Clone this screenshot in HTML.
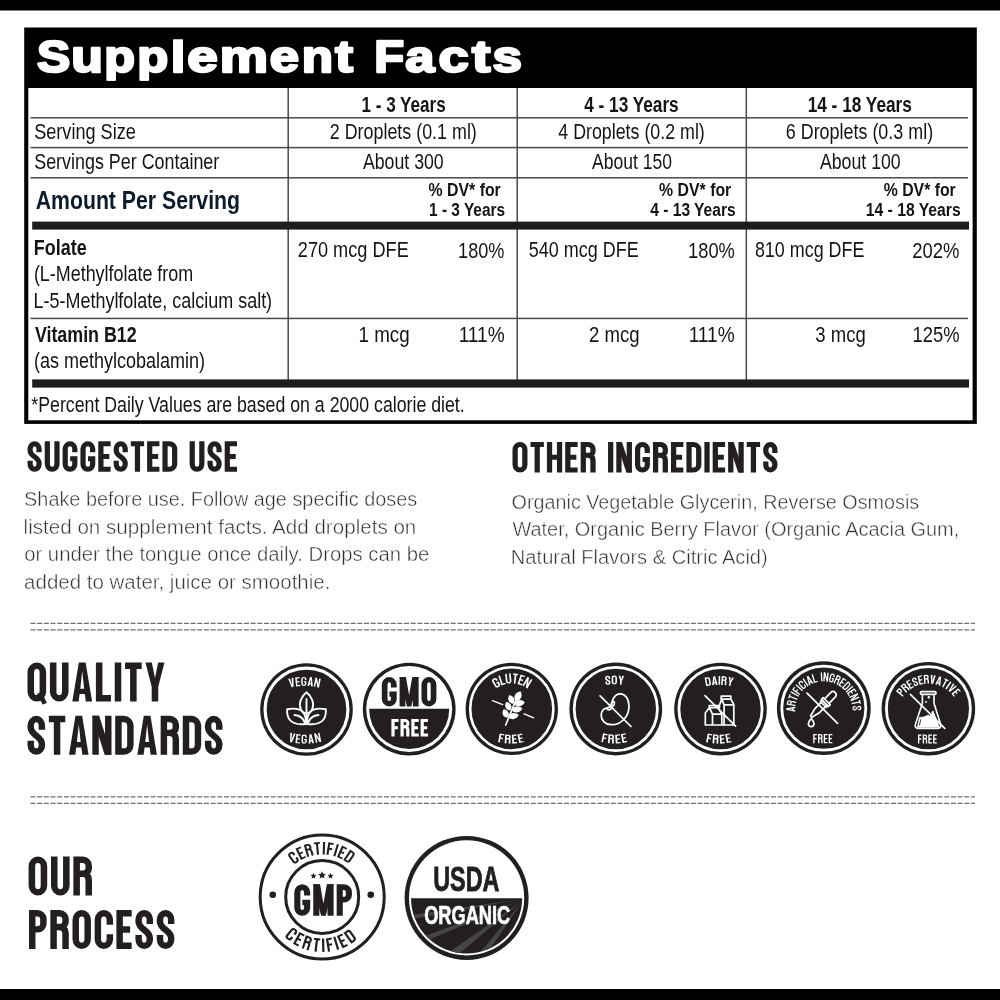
<!DOCTYPE html>
<html><head><meta charset="utf-8"><title>Supplement Facts</title>
<style>
html,body{margin:0;padding:0;background:#fff;}
body{width:1000px;height:1000px;overflow:hidden;font-family:"Liberation Sans",sans-serif;}
svg{display:block;will-change:transform;font-family:"Liberation Sans",sans-serif;}
</style></head><body>
<svg width="1000" height="1000" viewBox="0 0 1000 1000">
<rect x="0" y="0" width="1000" height="10.5" fill="#000"/>
<rect x="0" y="989" width="1000" height="11" fill="#000"/>
<rect x="24.2" y="27.5" width="952.6" height="396.4" fill="#000"/>
<rect x="28.3" y="88" width="944.3" height="332.3" fill="#fff"/>
<clipPath id="tclip"><rect x="30" y="39.3" width="500" height="41.4"/></clipPath><g clip-path="url(#tclip)"><text y="71.9" font-size="44.8" font-weight="bold" fill="#fff" stroke="#fff" stroke-width="2.4" stroke-linejoin="round"><tspan x="36.90" textLength="33.21" lengthAdjust="spacingAndGlyphs">S</tspan><tspan x="71.18" textLength="31.60" lengthAdjust="spacingAndGlyphs">u</tspan><tspan x="104.28" textLength="30.68" lengthAdjust="spacingAndGlyphs">p</tspan><tspan x="137.27" textLength="30.95" lengthAdjust="spacingAndGlyphs">p</tspan><tspan x="170.74" textLength="14.56" lengthAdjust="spacingAndGlyphs">l</tspan><tspan x="187.32" textLength="30.58" lengthAdjust="spacingAndGlyphs">e</tspan><tspan x="219.87" textLength="48.29" lengthAdjust="spacingAndGlyphs">m</tspan><tspan x="269.85" textLength="29.29" lengthAdjust="spacingAndGlyphs">e</tspan><tspan x="301.74" textLength="31.31" lengthAdjust="spacingAndGlyphs">n</tspan><tspan x="335.27" textLength="17.70" lengthAdjust="spacingAndGlyphs">t</tspan> <tspan x="374.28" textLength="29.95" lengthAdjust="spacingAndGlyphs">F</tspan><tspan x="405.37" textLength="29.15" lengthAdjust="spacingAndGlyphs">a</tspan><tspan x="438.58" textLength="30.31" lengthAdjust="spacingAndGlyphs">c</tspan><tspan x="472.06" textLength="18.39" lengthAdjust="spacingAndGlyphs">t</tspan><tspan x="492.56" textLength="29.45" lengthAdjust="spacingAndGlyphs">s</tspan></text></g>
<rect x="30.5" y="117.05" width="937.5" height="1.5" fill="#4a4a4a"/>
<rect x="30.5" y="146.85" width="937.5" height="1.5" fill="#4a4a4a"/>
<rect x="30.5" y="177.05" width="937.5" height="1.5" fill="#4a4a4a"/>
<rect x="30.5" y="317.7" width="937.5" height="1.5" fill="#4a4a4a"/>
<rect x="287.45" y="88" width="1.5" height="292" fill="#4a4a4a"/>
<rect x="516.45" y="88" width="1.5" height="292" fill="#4a4a4a"/>
<rect x="745.55" y="88" width="1.5" height="292" fill="#4a4a4a"/>
<rect x="32.2" y="221.6" width="936.8" height="8" fill="#1f1c1d"/>
<rect x="32.2" y="379.4" width="936.8" height="8.2" fill="#1f1c1d"/>
<text x="361.44" y="112.00" font-size="21.8" text-anchor="start" font-weight="bold" fill="#141414" textLength="84.25" lengthAdjust="spacingAndGlyphs" >1 - 3 Years</text>
<text x="584.24" y="112.00" font-size="21.8" text-anchor="start" font-weight="bold" fill="#141414" textLength="94.45" lengthAdjust="spacingAndGlyphs" >4 - 13 Years</text>
<text x="807.63" y="112.00" font-size="21.8" text-anchor="start" font-weight="bold" fill="#141414" textLength="104.27" lengthAdjust="spacingAndGlyphs" >14 - 18 Years</text>
<text x="34.18" y="139.00" font-size="21.8" text-anchor="start" font-weight="normal" fill="#141414" textLength="101.63" lengthAdjust="spacingAndGlyphs" >Serving Size</text>
<text x="329.80" y="139.00" font-size="21.8" text-anchor="start" font-weight="normal" fill="#141414" textLength="147.01" lengthAdjust="spacingAndGlyphs" >2 Droplets (0.1 ml)</text>
<text x="558.29" y="139.00" font-size="21.8" text-anchor="start" font-weight="normal" fill="#141414" textLength="146.51" lengthAdjust="spacingAndGlyphs" >4 Droplets (0.2 ml)</text>
<text x="785.79" y="139.00" font-size="21.8" text-anchor="start" font-weight="normal" fill="#141414" textLength="147.32" lengthAdjust="spacingAndGlyphs" >6 Droplets (0.3 ml)</text>
<text x="34.19" y="169.00" font-size="21.8" text-anchor="start" font-weight="normal" fill="#141414" textLength="185.11" lengthAdjust="spacingAndGlyphs" >Servings Per Container</text>
<text x="362.97" y="169.00" font-size="21.8" text-anchor="start" font-weight="normal" fill="#141414" textLength="80.73" lengthAdjust="spacingAndGlyphs" >About 300</text>
<text x="591.97" y="169.00" font-size="21.8" text-anchor="start" font-weight="normal" fill="#141414" textLength="80.02" lengthAdjust="spacingAndGlyphs" >About 150</text>
<text x="819.97" y="169.00" font-size="21.8" text-anchor="start" font-weight="normal" fill="#141414" textLength="80.73" lengthAdjust="spacingAndGlyphs" >About 100</text>
<text x="35.67" y="208.60" font-size="26" text-anchor="start" font-weight="bold" fill="#0e1c2a" textLength="204.35" lengthAdjust="spacingAndGlyphs" >Amount Per Serving</text>
<text x="428.61" y="195.50" font-size="19.2" text-anchor="start" font-weight="bold" fill="#141414" textLength="72.13" lengthAdjust="spacingAndGlyphs" >% DV* for</text>
<text x="429.04" y="216.00" font-size="19.2" text-anchor="start" font-weight="bold" fill="#141414" textLength="76.08" lengthAdjust="spacingAndGlyphs" >1 - 3 Years</text>
<text x="659.11" y="195.50" font-size="19.2" text-anchor="start" font-weight="bold" fill="#141414" textLength="72.13" lengthAdjust="spacingAndGlyphs" >% DV* for</text>
<text x="650.27" y="216.00" font-size="19.2" text-anchor="start" font-weight="bold" fill="#141414" textLength="85.36" lengthAdjust="spacingAndGlyphs" >4 - 13 Years</text>
<text x="883.81" y="195.50" font-size="19.2" text-anchor="start" font-weight="bold" fill="#141414" textLength="71.93" lengthAdjust="spacingAndGlyphs" >% DV* for</text>
<text x="865.72" y="216.00" font-size="19.2" text-anchor="start" font-weight="bold" fill="#141414" textLength="94.91" lengthAdjust="spacingAndGlyphs" >14 - 18 Years</text>
<text x="33.80" y="255.00" font-size="22" text-anchor="start" font-weight="bold" fill="#141414" textLength="52.81" lengthAdjust="spacingAndGlyphs" >Folate</text>
<text x="33.89" y="280.50" font-size="21.8" text-anchor="start" font-weight="normal" fill="#141414" textLength="159.29" lengthAdjust="spacingAndGlyphs" >(L-Methylfolate from</text>
<text x="33.53" y="307.50" font-size="21.8" text-anchor="start" font-weight="normal" fill="#141414" textLength="238.59" lengthAdjust="spacingAndGlyphs" >L-5-Methylfolate, calcium salt)</text>
<text x="297.79" y="257.00" font-size="21.8" text-anchor="start" font-weight="normal" fill="#141414" textLength="110.99" lengthAdjust="spacingAndGlyphs" >270 mcg DFE</text>
<text x="458.12" y="257.50" font-size="21.8" text-anchor="start" font-weight="normal" fill="#141414" textLength="46.33" lengthAdjust="spacingAndGlyphs" >180%</text>
<text x="528.78" y="257.00" font-size="21.8" text-anchor="start" font-weight="normal" fill="#141414" textLength="109.99" lengthAdjust="spacingAndGlyphs" >540 mcg DFE</text>
<text x="688.11" y="257.50" font-size="21.8" text-anchor="start" font-weight="normal" fill="#141414" textLength="46.74" lengthAdjust="spacingAndGlyphs" >180%</text>
<text x="754.92" y="257.00" font-size="21.8" text-anchor="start" font-weight="normal" fill="#141414" textLength="109.55" lengthAdjust="spacingAndGlyphs" >810 mcg DFE</text>
<text x="912.27" y="257.50" font-size="21.8" text-anchor="start" font-weight="normal" fill="#141414" textLength="47.08" lengthAdjust="spacingAndGlyphs" >202%</text>
<text x="34.88" y="341.50" font-size="22" text-anchor="start" font-weight="bold" fill="#141414" textLength="101.83" lengthAdjust="spacingAndGlyphs" >Vitamin B12</text>
<text x="33.88" y="367.50" font-size="21.8" text-anchor="start" font-weight="normal" fill="#141414" textLength="171.23" lengthAdjust="spacingAndGlyphs" >(as methylcobalamin)</text>
<text x="358.57" y="341.50" font-size="21.8" text-anchor="start" font-weight="normal" fill="#141414" textLength="51.14" lengthAdjust="spacingAndGlyphs" >1 mcg</text>
<text x="458.63" y="341.50" font-size="21.8" text-anchor="start" font-weight="normal" fill="#141414" textLength="46.01" lengthAdjust="spacingAndGlyphs" >111%</text>
<text x="589.06" y="341.50" font-size="21.8" text-anchor="start" font-weight="normal" fill="#141414" textLength="50.63" lengthAdjust="spacingAndGlyphs" >2 mcg</text>
<text x="688.63" y="341.50" font-size="21.8" text-anchor="start" font-weight="normal" fill="#141414" textLength="46.01" lengthAdjust="spacingAndGlyphs" >111%</text>
<text x="815.30" y="341.50" font-size="21.8" text-anchor="start" font-weight="normal" fill="#141414" textLength="50.40" lengthAdjust="spacingAndGlyphs" >3 mcg</text>
<text x="912.60" y="341.50" font-size="21.8" text-anchor="start" font-weight="normal" fill="#141414" textLength="47.06" lengthAdjust="spacingAndGlyphs" >125%</text>
<text x="31.32" y="412.40" font-size="21.8" text-anchor="start" font-weight="normal" fill="#141414" textLength="433.40" lengthAdjust="spacingAndGlyphs" >*Percent Daily Values are based on a 2000 calorie diet.</text>
<text x="24.10" y="505.70" font-size="19.6" text-anchor="start" font-weight="normal" fill="#303030" textLength="393.12" lengthAdjust="spacingAndGlyphs" stroke="#fff" stroke-width="0.45">Shake before use. Follow age specific doses</text>
<text x="23.62" y="533.70" font-size="19.6" text-anchor="start" font-weight="normal" fill="#303030" textLength="392.72" lengthAdjust="spacingAndGlyphs" stroke="#fff" stroke-width="0.45">listed on supplement facts. Add droplets on</text>
<text x="24.15" y="561.30" font-size="19.6" text-anchor="start" font-weight="normal" fill="#303030" textLength="405.25" lengthAdjust="spacingAndGlyphs" stroke="#fff" stroke-width="0.45">or under the tongue once daily. Drops can be</text>
<text x="24.13" y="589.30" font-size="19.6" text-anchor="start" font-weight="normal" fill="#303030" textLength="306.23" lengthAdjust="spacingAndGlyphs" stroke="#fff" stroke-width="0.45">added to water, juice or smoothie.</text>
<text x="511.57" y="508.70" font-size="19.6" text-anchor="start" font-weight="normal" fill="#303030" textLength="407.65" lengthAdjust="spacingAndGlyphs" stroke="#fff" stroke-width="0.45">Organic Vegetable Glycerin, Reverse Osmosis</text>
<text x="512.41" y="536.30" font-size="19.6" text-anchor="start" font-weight="normal" fill="#303030" textLength="446.87" lengthAdjust="spacingAndGlyphs" stroke="#fff" stroke-width="0.45">Water, Organic Berry Flavor (Organic Acacia Gum,</text>
<text x="510.86" y="564.30" font-size="19.6" text-anchor="start" font-weight="normal" fill="#303030" textLength="256.88" lengthAdjust="spacingAndGlyphs" stroke="#fff" stroke-width="0.45">Natural Flavors &amp; Citric Acid)</text>
<line x1="30.5" y1="623.3" x2="975" y2="623.3" stroke="#707070" stroke-width="1.25" stroke-dasharray="5 1.67"/>
<line x1="30.5" y1="629.9" x2="975" y2="629.9" stroke="#707070" stroke-width="1.25" stroke-dasharray="5 1.67"/>
<line x1="30.5" y1="796.8" x2="975" y2="796.8" stroke="#707070" stroke-width="1.25" stroke-dasharray="5 1.67"/>
<line x1="30.5" y1="803.3" x2="975" y2="803.3" stroke="#707070" stroke-width="1.25" stroke-dasharray="5 1.67"/>
<g transform="translate(27.50 441.30) scale(0.3160 0.3050)" color="#231f20">
<g transform="translate(0.00 0)"><path d="M36.75 36V25.25A14.25 17 0 0 0 8.25 25.25V30C8.25 50 36.75 52 36.75 72V74.75A14.25 17 0 0 1 8.25 74.75V64" fill="none" stroke="currentColor" stroke-width="16.5" stroke-linejoin="miter" stroke-linecap="butt"/></g>
<g transform="translate(54.50 0)"><path d="M8.25 0V74.75a15.25 17 0 0 0 30.5 0V0" fill="none" stroke="currentColor" stroke-width="16.5" stroke-linejoin="miter" stroke-linecap="butt"/></g>
<g transform="translate(111.00 0)"><path d="M38.75 36V25.25a15.25 17 0 0 0 -30.5 0V74.75a15.25 17 0 0 0 30.5 0V57.25H24" fill="none" stroke="currentColor" stroke-width="16.5" stroke-linejoin="miter" stroke-linecap="butt"/></g>
<g transform="translate(167.50 0)"><path d="M38.75 36V25.25a15.25 17 0 0 0 -30.5 0V74.75a15.25 17 0 0 0 30.5 0V57.25H24" fill="none" stroke="currentColor" stroke-width="16.5" stroke-linejoin="miter" stroke-linecap="butt"/></g>
<g transform="translate(224.00 0)"><path d="M39 8.25H8.25V91.75H39M8.25 50H35" fill="none" stroke="currentColor" stroke-width="16.5" stroke-linejoin="miter" stroke-linecap="butt"/></g>
<g transform="translate(272.50 0)"><path d="M36.75 36V25.25A14.25 17 0 0 0 8.25 25.25V30C8.25 50 36.75 52 36.75 72V74.75A14.25 17 0 0 1 8.25 74.75V64" fill="none" stroke="currentColor" stroke-width="16.5" stroke-linejoin="miter" stroke-linecap="butt"/></g>
<g transform="translate(327.00 0)"><path d="M0 8.25H42M21 8.25V100" fill="none" stroke="currentColor" stroke-width="16.5" stroke-linejoin="miter" stroke-linecap="butt"/></g>
<g transform="translate(378.50 0)"><path d="M39 8.25H8.25V91.75H39M8.25 50H35" fill="none" stroke="currentColor" stroke-width="16.5" stroke-linejoin="miter" stroke-linecap="butt"/></g>
<g transform="translate(427.00 0)"><path d="M8.25 8.25H21.75a17 17 0 0 1 17 17V74.75a17 17 0 0 1 -17 17H8.25Z" fill="none" stroke="currentColor" stroke-width="16.5" stroke-linejoin="miter" stroke-linecap="butt"/></g>
<g transform="translate(513.00 0)"><path d="M8.25 0V74.75a15.25 17 0 0 0 30.5 0V0" fill="none" stroke="currentColor" stroke-width="16.5" stroke-linejoin="miter" stroke-linecap="butt"/></g>
<g transform="translate(569.50 0)"><path d="M36.75 36V25.25A14.25 17 0 0 0 8.25 25.25V30C8.25 50 36.75 52 36.75 72V74.75A14.25 17 0 0 1 8.25 74.75V64" fill="none" stroke="currentColor" stroke-width="16.5" stroke-linejoin="miter" stroke-linecap="butt"/></g>
<g transform="translate(624.00 0)"><path d="M39 8.25H8.25V91.75H39M8.25 50H35" fill="none" stroke="currentColor" stroke-width="16.5" stroke-linejoin="miter" stroke-linecap="butt"/></g>
</g>
<g transform="translate(512.50 442.00) scale(0.3185 0.3050)" color="#231f20">
<g transform="translate(0.00 0)"><path d="M8.25 25.25a15.25 17 0 0 1 30.5 0V74.75a15.25 17 0 0 1 -30.5 0Z" fill="none" stroke="currentColor" stroke-width="16.5" stroke-linejoin="miter" stroke-linecap="butt"/></g>
<g transform="translate(56.50 0)"><path d="M0 8.25H42M21 8.25V100" fill="none" stroke="currentColor" stroke-width="16.5" stroke-linejoin="miter" stroke-linecap="butt"/></g>
<g transform="translate(108.00 0)"><path d="M8.25 0V100M39.75 0V100M8.25 50H39.75" fill="none" stroke="currentColor" stroke-width="16.5" stroke-linejoin="miter" stroke-linecap="butt"/></g>
<g transform="translate(165.50 0)"><path d="M39 8.25H8.25V91.75H39M8.25 50H35" fill="none" stroke="currentColor" stroke-width="16.5" stroke-linejoin="miter" stroke-linecap="butt"/></g>
<g transform="translate(214.00 0)"><path d="M8.25 100V8.25H23.75a15 15 0 0 1 15 15V30.75a15 13 0 0 1 -15 13H8.25M21.75 43.75q17 1 17 16V100" fill="none" stroke="currentColor" stroke-width="16.5" stroke-linejoin="miter" stroke-linecap="butt"/></g>
<g transform="translate(300.00 0)"><path d="M8.25 0V100" fill="none" stroke="currentColor" stroke-width="16.5" stroke-linejoin="miter" stroke-linecap="butt"/></g>
<g transform="translate(326.00 0)"><path d="M8.25 0V100M40.75 0V100" fill="none" stroke="currentColor" stroke-width="16.5" stroke-linejoin="miter" stroke-linecap="butt"/><path d="M0 0H17.5L49 100H31.5Z" fill="currentColor" fill-rule="evenodd"/></g>
<g transform="translate(384.50 0)"><path d="M38.75 36V25.25a15.25 17 0 0 0 -30.5 0V74.75a15.25 17 0 0 0 30.5 0V57.25H24" fill="none" stroke="currentColor" stroke-width="16.5" stroke-linejoin="miter" stroke-linecap="butt"/></g>
<g transform="translate(441.00 0)"><path d="M8.25 100V8.25H23.75a15 15 0 0 1 15 15V30.75a15 13 0 0 1 -15 13H8.25M21.75 43.75q17 1 17 16V100" fill="none" stroke="currentColor" stroke-width="16.5" stroke-linejoin="miter" stroke-linecap="butt"/></g>
<g transform="translate(497.50 0)"><path d="M39 8.25H8.25V91.75H39M8.25 50H35" fill="none" stroke="currentColor" stroke-width="16.5" stroke-linejoin="miter" stroke-linecap="butt"/></g>
<g transform="translate(546.00 0)"><path d="M8.25 8.25H21.75a17 17 0 0 1 17 17V74.75a17 17 0 0 1 -17 17H8.25Z" fill="none" stroke="currentColor" stroke-width="16.5" stroke-linejoin="miter" stroke-linecap="butt"/></g>
<g transform="translate(602.50 0)"><path d="M8.25 0V100" fill="none" stroke="currentColor" stroke-width="16.5" stroke-linejoin="miter" stroke-linecap="butt"/></g>
<g transform="translate(628.50 0)"><path d="M39 8.25H8.25V91.75H39M8.25 50H35" fill="none" stroke="currentColor" stroke-width="16.5" stroke-linejoin="miter" stroke-linecap="butt"/></g>
<g transform="translate(677.00 0)"><path d="M8.25 0V100M40.75 0V100" fill="none" stroke="currentColor" stroke-width="16.5" stroke-linejoin="miter" stroke-linecap="butt"/><path d="M0 0H17.5L49 100H31.5Z" fill="currentColor" fill-rule="evenodd"/></g>
<g transform="translate(735.50 0)"><path d="M0 8.25H42M21 8.25V100" fill="none" stroke="currentColor" stroke-width="16.5" stroke-linejoin="miter" stroke-linecap="butt"/></g>
<g transform="translate(787.00 0)"><path d="M36.75 36V25.25A14.25 17 0 0 0 8.25 25.25V30C8.25 50 36.75 52 36.75 72V74.75A14.25 17 0 0 1 8.25 74.75V64" fill="none" stroke="currentColor" stroke-width="16.5" stroke-linejoin="miter" stroke-linecap="butt"/></g>
</g>
<g transform="translate(27.50 662.50) scale(0.3965 0.3900)" color="#231f20">
<g transform="translate(0.00 0)"><path d="M8.25 25.25a15.25 17 0 0 1 30.5 0V74.75a15.25 17 0 0 1 -30.5 0Z" fill="none" stroke="currentColor" stroke-width="16.5" stroke-linejoin="miter" stroke-linecap="butt"/><path d="M24 80L36 76L49 104L38 108Z" fill="currentColor" fill-rule="evenodd"/></g>
<g transform="translate(56.50 0)"><path d="M8.25 0V74.75a15.25 17 0 0 0 30.5 0V0" fill="none" stroke="currentColor" stroke-width="16.5" stroke-linejoin="miter" stroke-linecap="butt"/></g>
<g transform="translate(113.00 0)"><path d="M0 100L16.5 0H33.5L50 100H34L31.6 81H18.4L16 100ZM20.2 67L25 22L29.8 67Z" fill="currentColor" fill-rule="evenodd"/></g>
<g transform="translate(172.50 0)"><path d="M8.25 0V91.75H38" fill="none" stroke="currentColor" stroke-width="16.5" stroke-linejoin="miter" stroke-linecap="butt"/></g>
<g transform="translate(220.00 0)"><path d="M8.25 0V100" fill="none" stroke="currentColor" stroke-width="16.5" stroke-linejoin="miter" stroke-linecap="butt"/></g>
<g transform="translate(246.00 0)"><path d="M0 8.25H42M21 8.25V100" fill="none" stroke="currentColor" stroke-width="16.5" stroke-linejoin="miter" stroke-linecap="butt"/></g>
<g transform="translate(297.50 0)"><path d="M0 0H16L24 40L32 0H48L32.25 62V100H15.75V62Z" fill="currentColor" fill-rule="evenodd"/></g>
</g>
<g transform="translate(27.50 715.80) scale(0.3916 0.3900)" color="#231f20">
<g transform="translate(0.00 0)"><path d="M36.75 36V25.25A14.25 17 0 0 0 8.25 25.25V30C8.25 50 36.75 52 36.75 72V74.75A14.25 17 0 0 1 8.25 74.75V64" fill="none" stroke="currentColor" stroke-width="16.5" stroke-linejoin="miter" stroke-linecap="butt"/></g>
<g transform="translate(54.50 0)"><path d="M0 8.25H42M21 8.25V100" fill="none" stroke="currentColor" stroke-width="16.5" stroke-linejoin="miter" stroke-linecap="butt"/></g>
<g transform="translate(106.00 0)"><path d="M0 100L16.5 0H33.5L50 100H34L31.6 81H18.4L16 100ZM20.2 67L25 22L29.8 67Z" fill="currentColor" fill-rule="evenodd"/></g>
<g transform="translate(165.50 0)"><path d="M8.25 0V100M40.75 0V100" fill="none" stroke="currentColor" stroke-width="16.5" stroke-linejoin="miter" stroke-linecap="butt"/><path d="M0 0H17.5L49 100H31.5Z" fill="currentColor" fill-rule="evenodd"/></g>
<g transform="translate(224.00 0)"><path d="M8.25 8.25H21.75a17 17 0 0 1 17 17V74.75a17 17 0 0 1 -17 17H8.25Z" fill="none" stroke="currentColor" stroke-width="16.5" stroke-linejoin="miter" stroke-linecap="butt"/></g>
<g transform="translate(280.50 0)"><path d="M0 100L16.5 0H33.5L50 100H34L31.6 81H18.4L16 100ZM20.2 67L25 22L29.8 67Z" fill="currentColor" fill-rule="evenodd"/></g>
<g transform="translate(340.00 0)"><path d="M8.25 100V8.25H23.75a15 15 0 0 1 15 15V30.75a15 13 0 0 1 -15 13H8.25M21.75 43.75q17 1 17 16V100" fill="none" stroke="currentColor" stroke-width="16.5" stroke-linejoin="miter" stroke-linecap="butt"/></g>
<g transform="translate(396.50 0)"><path d="M8.25 8.25H21.75a17 17 0 0 1 17 17V74.75a17 17 0 0 1 -17 17H8.25Z" fill="none" stroke="currentColor" stroke-width="16.5" stroke-linejoin="miter" stroke-linecap="butt"/></g>
<g transform="translate(453.00 0)"><path d="M36.75 36V25.25A14.25 17 0 0 0 8.25 25.25V30C8.25 50 36.75 52 36.75 72V74.75A14.25 17 0 0 1 8.25 74.75V64" fill="none" stroke="currentColor" stroke-width="16.5" stroke-linejoin="miter" stroke-linecap="butt"/></g>
</g>
<g transform="translate(28.60 856.60) scale(0.3962 0.3900)" color="#231f20">
<g transform="translate(0.00 0)"><path d="M8.25 25.25a15.25 17 0 0 1 30.5 0V74.75a15.25 17 0 0 1 -30.5 0Z" fill="none" stroke="currentColor" stroke-width="16.5" stroke-linejoin="miter" stroke-linecap="butt"/></g>
<g transform="translate(56.50 0)"><path d="M8.25 0V74.75a15.25 17 0 0 0 30.5 0V0" fill="none" stroke="currentColor" stroke-width="16.5" stroke-linejoin="miter" stroke-linecap="butt"/></g>
<g transform="translate(113.00 0)"><path d="M8.25 100V8.25H23.75a15 15 0 0 1 15 15V30.75a15 13 0 0 1 -15 13H8.25M21.75 43.75q17 1 17 16V100" fill="none" stroke="currentColor" stroke-width="16.5" stroke-linejoin="miter" stroke-linecap="butt"/></g>
</g>
<g transform="translate(29.00 910.00) scale(0.3919 0.3900)" color="#231f20">
<g transform="translate(0.00 0)"><path d="M8.25 100V8.25H21.75a15 15 0 0 1 15 15V34.75a15 15 0 0 1 -15 15H8.25" fill="none" stroke="currentColor" stroke-width="16.5" stroke-linejoin="miter" stroke-linecap="butt"/></g>
<g transform="translate(54.50 0)"><path d="M8.25 100V8.25H23.75a15 15 0 0 1 15 15V30.75a15 13 0 0 1 -15 13H8.25M21.75 43.75q17 1 17 16V100" fill="none" stroke="currentColor" stroke-width="16.5" stroke-linejoin="miter" stroke-linecap="butt"/></g>
<g transform="translate(111.00 0)"><path d="M8.25 25.25a15.25 17 0 0 1 30.5 0V74.75a15.25 17 0 0 1 -30.5 0Z" fill="none" stroke="currentColor" stroke-width="16.5" stroke-linejoin="miter" stroke-linecap="butt"/></g>
<g transform="translate(167.50 0)"><path d="M38.75 38V25.25a15.25 17 0 0 0 -30.5 0V74.75a15.25 17 0 0 0 30.5 0V62" fill="none" stroke="currentColor" stroke-width="16.5" stroke-linejoin="miter" stroke-linecap="butt"/></g>
<g transform="translate(223.00 0)"><path d="M39 8.25H8.25V91.75H39M8.25 50H35" fill="none" stroke="currentColor" stroke-width="16.5" stroke-linejoin="miter" stroke-linecap="butt"/></g>
<g transform="translate(271.50 0)"><path d="M36.75 36V25.25A14.25 17 0 0 0 8.25 25.25V30C8.25 50 36.75 52 36.75 72V74.75A14.25 17 0 0 1 8.25 74.75V64" fill="none" stroke="currentColor" stroke-width="16.5" stroke-linejoin="miter" stroke-linecap="butt"/></g>
<g transform="translate(326.00 0)"><path d="M36.75 36V25.25A14.25 17 0 0 0 8.25 25.25V30C8.25 50 36.75 52 36.75 72V74.75A14.25 17 0 0 1 8.25 74.75V64" fill="none" stroke="currentColor" stroke-width="16.5" stroke-linejoin="miter" stroke-linecap="butt"/></g>
</g>
<circle cx="306.5" cy="709.5" r="46.3" fill="#231f20"/><circle cx="306.5" cy="709.5" r="41.4" fill="none" stroke="#fff" stroke-width="3.2"/>
<g color="#fff">
<g transform="translate(304.50 745.90) rotate(-11.42) translate(-2.648 -69.000) scale(0.1103 0.0900)"><path d="M0 0H16L24 74L32 0H48L32.5 100H15.5Z" fill="currentColor" fill-rule="evenodd"/></g>
<g transform="translate(304.50 745.90) rotate(-5.98) translate(-2.151 -69.000) scale(0.1103 0.0900)"><path d="M39 6.75H6.75V93.25H39M6.75 50H35" fill="none" stroke="currentColor" stroke-width="13.5" stroke-linejoin="miter" stroke-linecap="butt"/></g>
<g transform="translate(304.50 745.90) rotate(-0.59) translate(-2.593 -69.000) scale(0.1103 0.0900)"><path d="M40.25 36V23.75a16.75 17 0 0 0 -33.5 0V76.25a16.75 17 0 0 0 33.5 0V55.75H24" fill="none" stroke="currentColor" stroke-width="13.5" stroke-linejoin="miter" stroke-linecap="butt"/></g>
<g transform="translate(304.50 745.90) rotate(5.34) translate(-2.758 -69.000) scale(0.1103 0.0900)"><path d="M0 100L16.5 0H33.5L50 100H34L31.6 81H18.4L16 100ZM20.2 67L25 22L29.8 67Z" fill="currentColor" fill-rule="evenodd"/></g>
<g transform="translate(304.50 745.90) rotate(11.37) translate(-2.703 -69.000) scale(0.1103 0.0900)"><path d="M6.75 0V100M42.25 0V100" fill="none" stroke="currentColor" stroke-width="13.5" stroke-linejoin="miter" stroke-linecap="butt"/><path d="M0 0H14.5L49 100H34.5Z" fill="currentColor" fill-rule="evenodd"/></g>
</g>
<g color="#fff">
<g transform="translate(304.85 674.50) rotate(11.51) translate(-2.673 60.000) scale(0.1114 0.0920)"><path d="M0 0H16L24 74L32 0H48L32.5 100H15.5Z" fill="currentColor" fill-rule="evenodd"/></g>
<g transform="translate(304.85 674.50) rotate(6.03) translate(-2.172 60.000) scale(0.1114 0.0920)"><path d="M39 6.75H6.75V93.25H39M6.75 50H35" fill="none" stroke="currentColor" stroke-width="13.5" stroke-linejoin="miter" stroke-linecap="butt"/></g>
<g transform="translate(304.85 674.50) rotate(0.59) translate(-2.618 60.000) scale(0.1114 0.0920)"><path d="M40.25 36V23.75a16.75 17 0 0 0 -33.5 0V76.25a16.75 17 0 0 0 33.5 0V55.75H24" fill="none" stroke="currentColor" stroke-width="13.5" stroke-linejoin="miter" stroke-linecap="butt"/></g>
<g transform="translate(304.85 674.50) rotate(-5.38) translate(-2.785 60.000) scale(0.1114 0.0920)"><path d="M0 100L16.5 0H33.5L50 100H34L31.6 81H18.4L16 100ZM20.2 67L25 22L29.8 67Z" fill="currentColor" fill-rule="evenodd"/></g>
<g transform="translate(304.85 674.50) rotate(-11.46) translate(-2.729 60.000) scale(0.1114 0.0920)"><path d="M6.75 0V100M42.25 0V100" fill="none" stroke="currentColor" stroke-width="13.5" stroke-linejoin="miter" stroke-linecap="butt"/><path d="M0 0H14.5L49 100H34.5Z" fill="currentColor" fill-rule="evenodd"/></g>
</g>
<g transform="translate(306.5 709.5)" fill="none" stroke="#fff" stroke-width="1.9" stroke-linecap="round" stroke-linejoin="round"><path d="M0 -17.3C-5.5 -13 -8.2 -6 -5.6 0C-4 3 -1 4 0 4C1 4 4 3 5.6 0C8.2 -6 5.5 -13 0 -17.3Z"/><path d="M0 -10.5V14.5"/><path d="M-19.3 -0.3C-12 -1.6 -6 -0.6 -3 3.2C-1 6 -0.5 10 -0.5 14.5C-8 15.4 -14 14 -17 10C-19.2 7 -19.6 3 -19.3 -0.3Z"/><path d="M-12 5.5C-7 6 -3 9 -1.5 13.5"/><g transform="scale(-1 1)"><path d="M-19.3 -0.3C-12 -1.6 -6 -0.6 -3 3.2C-1 6 -0.5 10 -0.5 14.5C-8 15.4 -14 14 -17 10C-19.2 7 -19.6 3 -19.3 -0.3Z"/><path d="M-12 5.5C-7 6 -3 9 -1.5 13.5"/></g></g>
<circle cx="409.2" cy="709.1" r="46.4" fill="#231f20"/><circle cx="409.2" cy="709.1" r="43" fill="#fff"/>
<clipPath id="gmoc"><rect x="359.2" y="708.8" width="100" height="60"/></clipPath><circle cx="409.2" cy="709.1" r="40" fill="#231f20" clip-path="url(#gmoc)"/>
<g transform="translate(381.80 677.00) scale(0.3174 0.2940)" color="#231f20">
<g transform="translate(0.00 0)"><path d="M38.0 36V26.0a14.5 17 0 0 0 -29.0 0V74.0a14.5 17 0 0 0 29.0 0V58.0H24" fill="none" stroke="currentColor" stroke-width="18" stroke-linejoin="miter" stroke-linecap="butt"/></g>
<g transform="translate(56.00 0)"><path d="M9.0 100V0M51.0 100V0" fill="none" stroke="currentColor" stroke-width="18" stroke-linejoin="miter" stroke-linecap="butt"/><path d="M0 0H20L30 62L40 0H60L37 100H23Z" fill="currentColor" fill-rule="evenodd"/></g>
<g transform="translate(125.00 0)"><path d="M9.0 26.0a14.5 17 0 0 1 29.0 0V74.0a14.5 17 0 0 1 -29.0 0Z" fill="none" stroke="currentColor" stroke-width="18" stroke-linejoin="miter" stroke-linecap="butt"/></g>
</g>
<g transform="translate(391.40 719.00) scale(0.1896 0.1760)" color="#fff">
<g transform="translate(0.00 0)"><path d="M38 8.5H8.5V100M8.5 50H34" fill="none" stroke="currentColor" stroke-width="17" stroke-linejoin="miter" stroke-linecap="butt"/></g>
<g transform="translate(48.00 0)"><path d="M8.5 100V8.5H23.5a15 15 0 0 1 15 15V30.5a15 13 0 0 1 -15 13H8.5M21.5 43.5q17 1 17 16V100" fill="none" stroke="currentColor" stroke-width="17" stroke-linejoin="miter" stroke-linecap="butt"/></g>
<g transform="translate(105.00 0)"><path d="M39 8.5H8.5V91.5H39M8.5 50H35" fill="none" stroke="currentColor" stroke-width="17" stroke-linejoin="miter" stroke-linecap="butt"/></g>
<g transform="translate(154.00 0)"><path d="M39 8.5H8.5V91.5H39M8.5 50H35" fill="none" stroke="currentColor" stroke-width="17" stroke-linejoin="miter" stroke-linecap="butt"/></g>
</g>
<circle cx="511.8" cy="708.9" r="46.2" fill="#231f20"/><circle cx="511.8" cy="708.9" r="41.6" fill="none" stroke="#fff" stroke-width="2.6"/>
<g color="#fff">
<g transform="translate(511.80 708.90) rotate(-30.96) translate(-2.767 -35.500) scale(0.1177 0.1000)"><path d="M40.0 36V24.0a16.5 17 0 0 0 -33.0 0V76.0a16.5 17 0 0 0 33.0 0V56.0H24" fill="none" stroke="currentColor" stroke-width="14" stroke-linejoin="miter" stroke-linecap="butt"/></g>
<g transform="translate(511.80 708.90) rotate(-18.69) translate(-2.237 -35.500) scale(0.1177 0.1000)"><path d="M7.0 0V93.0H38" fill="none" stroke="currentColor" stroke-width="14" stroke-linejoin="miter" stroke-linecap="butt"/></g>
<g transform="translate(511.80 708.90) rotate(-6.41) translate(-2.767 -35.500) scale(0.1177 0.1000)"><path d="M7.0 0V76.0a16.5 17 0 0 0 33.0 0V0" fill="none" stroke="currentColor" stroke-width="14" stroke-linejoin="miter" stroke-linecap="butt"/></g>
<g transform="translate(511.80 708.90) rotate(6.30) translate(-2.472 -35.500) scale(0.1177 0.1000)"><path d="M0 7.0H42M21 7.0V100" fill="none" stroke="currentColor" stroke-width="14" stroke-linejoin="miter" stroke-linecap="butt"/></g>
<g transform="translate(511.80 708.90) rotate(18.14) translate(-2.296 -35.500) scale(0.1177 0.1000)"><path d="M39 7.0H7.0V93.0H39M7.0 50H35" fill="none" stroke="currentColor" stroke-width="14" stroke-linejoin="miter" stroke-linecap="butt"/></g>
<g transform="translate(511.80 708.90) rotate(30.74) translate(-2.885 -35.500) scale(0.1177 0.1000)"><path d="M7.0 0V100M42.0 0V100" fill="none" stroke="currentColor" stroke-width="14" stroke-linejoin="miter" stroke-linecap="butt"/><path d="M0 0H15L49 100H34Z" fill="currentColor" fill-rule="evenodd"/></g>
</g>
<g color="#fff">
<g transform="translate(510.95 689.80) rotate(11.40) translate(-2.320 45.000) scale(0.1221 0.0880)"><path d="M38 7.0H7.0V100M7.0 50H34" fill="none" stroke="currentColor" stroke-width="14" stroke-linejoin="miter" stroke-linecap="butt"/></g>
<g transform="translate(510.95 689.80) rotate(3.68) translate(-2.870 45.000) scale(0.1221 0.0880)"><path d="M7.0 100V7.0H25.0a15 15 0 0 1 15 15V32.0a15 13 0 0 1 -15 13H7.0M23.0 45.0q17 1 17 16V100" fill="none" stroke="currentColor" stroke-width="14" stroke-linejoin="miter" stroke-linecap="butt"/></g>
<g transform="translate(510.95 689.80) rotate(-4.11) translate(-2.381 45.000) scale(0.1221 0.0880)"><path d="M39 7.0H7.0V93.0H39M7.0 50H35" fill="none" stroke="currentColor" stroke-width="14" stroke-linejoin="miter" stroke-linecap="butt"/></g>
<g transform="translate(510.95 689.80) rotate(-11.33) translate(-2.381 45.000) scale(0.1221 0.0880)"><path d="M39 7.0H7.0V93.0H39M7.0 50H35" fill="none" stroke="currentColor" stroke-width="14" stroke-linejoin="miter" stroke-linecap="butt"/></g>
</g>
<g transform="translate(511.8 708.9)" fill="none" stroke="#fff" stroke-width="1.5" stroke-linecap="round" stroke-linejoin="round"><path d="M-6.1 16.1L3.6 -7.5" stroke-width="1.7"/><path d="M-19.3 -8.2L-9.1 -4.3M12.2 5L21.8 8.9" stroke-width="1.4"/><g fill="#fff" stroke="none"><path transform="translate(3.85 -8.0) rotate(28)" d="M0 0C4.62 -2.12 4.36 -7.95 0 -10.6C-4.36 -7.95 -4.62 -2.12 0 0Z"/><path transform="translate(2.5 -4.9) rotate(80)" d="M0 0C4.20 -2.12 3.96 -7.95 0 -10.6C-3.96 -7.95 -4.20 -2.12 0 0Z"/><path transform="translate(0.1 1.4) rotate(80)" d="M0 0C4.20 -2.12 3.96 -7.95 0 -10.6C-3.96 -7.95 -4.20 -2.12 0 0Z"/><path transform="translate(-3.5 8.0) rotate(80)" d="M0 0C4.20 -2.12 3.96 -7.95 0 -10.6C-3.96 -7.95 -4.20 -2.12 0 0Z"/><path transform="translate(1.4 -5.2) rotate(-25)" d="M0 0C4.06 -1.84 3.83 -6.90 0 -9.2C-3.83 -6.90 -4.06 -1.84 0 0Z"/><path transform="translate(-1.6 1.4) rotate(-25)" d="M0 0C4.06 -1.84 3.83 -6.90 0 -9.2C-3.83 -6.90 -4.06 -1.84 0 0Z"/><path transform="translate(-4.3 8.6) rotate(-25)" d="M0 0C4.06 -1.84 3.83 -6.90 0 -9.2C-3.83 -6.90 -4.06 -1.84 0 0Z"/></g></g>
<circle cx="615.8" cy="709" r="46.4" fill="#231f20"/><circle cx="615.8" cy="709" r="41.6" fill="none" stroke="#fff" stroke-width="2.8"/>
<g color="#fff">
<g transform="translate(614.50 764.50) rotate(-4.58) translate(-2.552 -89.000) scale(0.1134 0.0900)"><path d="M38.0 36V24.0A15.5 17 0 0 0 7.0 24.0V30C7.0 50 38.0 52 38.0 72V76.0A15.5 17 0 0 1 7.0 76.0V64" fill="none" stroke="currentColor" stroke-width="14" stroke-linejoin="miter" stroke-linecap="butt"/></g>
<g transform="translate(614.50 764.50) rotate(-0.12) translate(-2.665 -89.000) scale(0.1134 0.0900)"><path d="M7.0 24.0a16.5 17 0 0 1 33.0 0V76.0a16.5 17 0 0 1 -33.0 0Z" fill="none" stroke="currentColor" stroke-width="14" stroke-linejoin="miter" stroke-linecap="butt"/></g>
<g transform="translate(614.50 764.50) rotate(4.46) translate(-2.722 -89.000) scale(0.1134 0.0900)"><path d="M0 0H16L24 40L32 0H48L31.0 62V100H17.0V62Z" fill="currentColor" fill-rule="evenodd"/></g>
</g>
<g color="#fff">
<g transform="translate(614.30 689.60) rotate(11.44) translate(-2.330 45.000) scale(0.1226 0.0890)"><path d="M38 7.0H7.0V100M7.0 50H34" fill="none" stroke="currentColor" stroke-width="14" stroke-linejoin="miter" stroke-linecap="butt"/></g>
<g transform="translate(614.30 689.60) rotate(3.69) translate(-2.881 45.000) scale(0.1226 0.0890)"><path d="M7.0 100V7.0H25.0a15 15 0 0 1 15 15V32.0a15 13 0 0 1 -15 13H7.0M23.0 45.0q17 1 17 16V100" fill="none" stroke="currentColor" stroke-width="14" stroke-linejoin="miter" stroke-linecap="butt"/></g>
<g transform="translate(614.30 689.60) rotate(-4.12) translate(-2.391 45.000) scale(0.1226 0.0890)"><path d="M39 7.0H7.0V93.0H39M7.0 50H35" fill="none" stroke="currentColor" stroke-width="14" stroke-linejoin="miter" stroke-linecap="butt"/></g>
<g transform="translate(614.30 689.60) rotate(-11.37) translate(-2.391 45.000) scale(0.1226 0.0890)"><path d="M39 7.0H7.0V93.0H39M7.0 50H35" fill="none" stroke="currentColor" stroke-width="14" stroke-linejoin="miter" stroke-linecap="butt"/></g>
</g>
<g transform="translate(615.8 709)" fill="none" stroke="#fff" stroke-width="1.75" stroke-linecap="round" stroke-linejoin="round"><path d="M-2.8 -9.8C-1 -13.5 1.5 -15.2 4.5 -15.2C9.5 -15.2 13.2 -10 13.2 -3C13.2 3 11.5 7 8 10.5C4 14.5 -1 16 -5 15.7C-11 15.2 -14.8 11 -14.6 6C-14.4 2 -12 -0.5 -9 -1C-7 -1.3 -5.5 -1.8 -4.5 -3.5C-3.8 -5 -3.8 -7.5 -2.8 -9.8Z"/><ellipse cx="-3.0" cy="-5.2" rx="1.5" ry="2.5" transform="rotate(12 -3 -5.2)"/><path d="M-9.2 -0.6C-8 1.6 -5 1.3 -4.2 -1.2"/><path d="M-15.7 -13.1L15.2 17.5"/></g>
<circle cx="720.5" cy="709.1" r="46.3" fill="#231f20"/><circle cx="720.5" cy="709.1" r="41.6" fill="none" stroke="#fff" stroke-width="2.8"/>
<g color="#fff">
<g transform="translate(719.25 739.80) rotate(-10.98) translate(-2.581 -63.700) scale(0.1098 0.0870)"><path d="M7.0 7.0H23.0a17 17 0 0 1 17 17V76.0a17 17 0 0 1 -17 17H7.0Z" fill="none" stroke="currentColor" stroke-width="14" stroke-linejoin="miter" stroke-linecap="butt"/></g>
<g transform="translate(719.25 739.80) rotate(-4.56) translate(-2.746 -63.700) scale(0.1098 0.0870)"><path d="M0 100L16.5 0H33.5L50 100H34L31.6 81H18.4L16 100ZM20.2 67L25 22L29.8 67Z" fill="currentColor" fill-rule="evenodd"/></g>
<g transform="translate(719.25 739.80) rotate(0.11) translate(-0.769 -63.700) scale(0.1098 0.0870)"><path d="M7.0 0V100" fill="none" stroke="currentColor" stroke-width="14" stroke-linejoin="miter" stroke-linecap="butt"/></g>
<g transform="translate(719.25 739.80) rotate(4.61) translate(-2.581 -63.700) scale(0.1098 0.0870)"><path d="M7.0 100V7.0H25.0a15 15 0 0 1 15 15V32.0a15 13 0 0 1 -15 13H7.0M23.0 45.0q17 1 17 16V100" fill="none" stroke="currentColor" stroke-width="14" stroke-linejoin="miter" stroke-linecap="butt"/></g>
<g transform="translate(719.25 739.80) rotate(10.92) translate(-2.636 -63.700) scale(0.1098 0.0870)"><path d="M0 0H16L24 40L32 0H48L31.0 62V100H17.0V62Z" fill="currentColor" fill-rule="evenodd"/></g>
</g>
<g color="#fff">
<g transform="translate(718.75 689.70) rotate(11.20) translate(-2.282 45.000) scale(0.1201 0.0890)"><path d="M38 7.0H7.0V100M7.0 50H34" fill="none" stroke="currentColor" stroke-width="14" stroke-linejoin="miter" stroke-linecap="butt"/></g>
<g transform="translate(718.75 689.70) rotate(3.62) translate(-2.822 45.000) scale(0.1201 0.0890)"><path d="M7.0 100V7.0H25.0a15 15 0 0 1 15 15V32.0a15 13 0 0 1 -15 13H7.0M23.0 45.0q17 1 17 16V100" fill="none" stroke="currentColor" stroke-width="14" stroke-linejoin="miter" stroke-linecap="butt"/></g>
<g transform="translate(718.75 689.70) rotate(-4.04) translate(-2.342 45.000) scale(0.1201 0.0890)"><path d="M39 7.0H7.0V93.0H39M7.0 50H35" fill="none" stroke="currentColor" stroke-width="14" stroke-linejoin="miter" stroke-linecap="butt"/></g>
<g transform="translate(718.75 689.70) rotate(-11.13) translate(-2.342 45.000) scale(0.1201 0.0890)"><path d="M39 7.0H7.0V93.0H39M7.0 50H35" fill="none" stroke="currentColor" stroke-width="14" stroke-linejoin="miter" stroke-linecap="butt"/></g>
</g>
<g transform="translate(720.5 709.1)" fill="none" stroke="#fff" stroke-width="1.7" stroke-linecap="round" stroke-linejoin="round"><path d="M-15.2 15.9V3.9L-11 -1.5L-8 5.1V15.9M-11 -1.5H-2.3L1.3 5.1V15.9M-8 5.1H1.3M-11.3 -1.5V-3.6H-2.3V-1.5M-15.2 15.9H13.3"/><path d="M-1.1 -1.2V-3.9L1.2 -9.9L3.6 -4.2V15.9M1.2 -9.9H10.3L13.3 -4.6V15.9M3.6 -4.2H13.3M0.7 -9.9V-12.9H10.3V-9.9"/><path d="M-15.5 -13.5L15.1 17.1"/></g>
<circle cx="823.8" cy="708.2" r="46.9" fill="#231f20"/><circle cx="823.8" cy="708.2" r="42.0" fill="none" stroke="#fff" stroke-width="2.8"/>
<g color="#fff">
<g transform="translate(823.80 710.00) rotate(-88.48) translate(-2.464 -37.600) scale(0.0986 0.0900)"><path d="M0 100L16.5 0H33.5L50 100H34L31.6 81H18.4L16 100ZM20.2 67L25 22L29.8 67Z" fill="currentColor" fill-rule="evenodd"/></g>
<g transform="translate(823.80 710.00) rotate(-77.99) translate(-2.316 -37.600) scale(0.0986 0.0900)"><path d="M6.75 100V6.75H25.25a15 15 0 0 1 15 15V32.25a15 13 0 0 1 -15 13H6.75M23.25 45.25q17 1 17 16V100" fill="none" stroke="currentColor" stroke-width="13.5" stroke-linejoin="miter" stroke-linecap="butt"/></g>
<g transform="translate(823.80 710.00) rotate(-68.18) translate(-2.070 -37.600) scale(0.0986 0.0900)"><path d="M0 6.75H42M21 6.75V100" fill="none" stroke="currentColor" stroke-width="13.5" stroke-linejoin="miter" stroke-linecap="butt"/></g>
<g transform="translate(823.80 710.00) rotate(-61.22) translate(-0.665 -37.600) scale(0.0986 0.0900)"><path d="M6.75 0V100" fill="none" stroke="currentColor" stroke-width="13.5" stroke-linejoin="miter" stroke-linecap="butt"/></g>
<g transform="translate(823.80 710.00) rotate(-54.61) translate(-1.873 -37.600) scale(0.0986 0.0900)"><path d="M38 6.75H6.75V100M6.75 50H34" fill="none" stroke="currentColor" stroke-width="13.5" stroke-linejoin="miter" stroke-linecap="butt"/></g>
<g transform="translate(823.80 710.00) rotate(-48.00) translate(-0.665 -37.600) scale(0.0986 0.0900)"><path d="M6.75 0V100" fill="none" stroke="currentColor" stroke-width="13.5" stroke-linejoin="miter" stroke-linecap="butt"/></g>
<g transform="translate(823.80 710.00) rotate(-40.71) translate(-2.267 -37.600) scale(0.0986 0.0900)"><path d="M40.25 38V23.75a16.75 17 0 0 0 -33.5 0V76.25a16.75 17 0 0 0 33.5 0V62" fill="none" stroke="currentColor" stroke-width="13.5" stroke-linejoin="miter" stroke-linecap="butt"/></g>
<g transform="translate(823.80 710.00) rotate(-33.41) translate(-0.665 -37.600) scale(0.0986 0.0900)"><path d="M6.75 0V100" fill="none" stroke="currentColor" stroke-width="13.5" stroke-linejoin="miter" stroke-linecap="butt"/></g>
<g transform="translate(823.80 710.00) rotate(-25.78) translate(-2.464 -37.600) scale(0.0986 0.0900)"><path d="M0 100L16.5 0H33.5L50 100H34L31.6 81H18.4L16 100ZM20.2 67L25 22L29.8 67Z" fill="currentColor" fill-rule="evenodd"/></g>
<g transform="translate(823.80 710.00) rotate(-16.06) translate(-1.873 -37.600) scale(0.0986 0.0900)"><path d="M6.75 0V93.25H38" fill="none" stroke="currentColor" stroke-width="13.5" stroke-linejoin="miter" stroke-linecap="butt"/></g>
<g transform="translate(823.80 710.00) rotate(-3.81) translate(-0.665 -37.600) scale(0.0986 0.0900)"><path d="M6.75 0V100" fill="none" stroke="currentColor" stroke-width="13.5" stroke-linejoin="miter" stroke-linecap="butt"/></g>
<g transform="translate(823.80 710.00) rotate(3.73) translate(-2.415 -37.600) scale(0.0986 0.0900)"><path d="M6.75 0V100M42.25 0V100" fill="none" stroke="currentColor" stroke-width="13.5" stroke-linejoin="miter" stroke-linecap="butt"/><path d="M0 0H14.5L49 100H34.5Z" fill="currentColor" fill-rule="evenodd"/></g>
<g transform="translate(823.80 710.00) rotate(14.14) translate(-2.316 -37.600) scale(0.0986 0.0900)"><path d="M40.25 36V23.75a16.75 17 0 0 0 -33.5 0V76.25a16.75 17 0 0 0 33.5 0V55.75H24" fill="none" stroke="currentColor" stroke-width="13.5" stroke-linejoin="miter" stroke-linecap="butt"/></g>
<g transform="translate(823.80 710.00) rotate(24.38) translate(-2.316 -37.600) scale(0.0986 0.0900)"><path d="M6.75 100V6.75H25.25a15 15 0 0 1 15 15V32.25a15 13 0 0 1 -15 13H6.75M23.25 45.25q17 1 17 16V100" fill="none" stroke="currentColor" stroke-width="13.5" stroke-linejoin="miter" stroke-linecap="butt"/></g>
<g transform="translate(823.80 710.00) rotate(33.93) translate(-1.922 -37.600) scale(0.0986 0.0900)"><path d="M39 6.75H6.75V93.25H39M6.75 50H35" fill="none" stroke="currentColor" stroke-width="13.5" stroke-linejoin="miter" stroke-linecap="butt"/></g>
<g transform="translate(823.80 710.00) rotate(43.49) translate(-2.316 -37.600) scale(0.0986 0.0900)"><path d="M6.75 6.75H23.25a17 17 0 0 1 17 17V76.25a17 17 0 0 1 -17 17H6.75Z" fill="none" stroke="currentColor" stroke-width="13.5" stroke-linejoin="miter" stroke-linecap="butt"/></g>
<g transform="translate(823.80 710.00) rotate(50.86) translate(-0.665 -37.600) scale(0.0986 0.0900)"><path d="M6.75 0V100" fill="none" stroke="currentColor" stroke-width="13.5" stroke-linejoin="miter" stroke-linecap="butt"/></g>
<g transform="translate(823.80 710.00) rotate(57.56) translate(-1.922 -37.600) scale(0.0986 0.0900)"><path d="M39 6.75H6.75V93.25H39M6.75 50H35" fill="none" stroke="currentColor" stroke-width="13.5" stroke-linejoin="miter" stroke-linecap="butt"/></g>
<g transform="translate(823.80 710.00) rotate(67.28) translate(-2.415 -37.600) scale(0.0986 0.0900)"><path d="M6.75 0V100M42.25 0V100" fill="none" stroke="currentColor" stroke-width="13.5" stroke-linejoin="miter" stroke-linecap="butt"/><path d="M0 0H14.5L49 100H34.5Z" fill="currentColor" fill-rule="evenodd"/></g>
<g transform="translate(823.80 710.00) rotate(77.26) translate(-2.070 -37.600) scale(0.0986 0.0900)"><path d="M0 6.75H42M21 6.75V100" fill="none" stroke="currentColor" stroke-width="13.5" stroke-linejoin="miter" stroke-linecap="butt"/></g>
<g transform="translate(823.80 710.00) rotate(86.90) translate(-2.218 -37.600) scale(0.0986 0.0900)"><path d="M38.25 36V23.75A15.75 17 0 0 0 6.75 23.75V30C6.75 50 38.25 52 38.25 72V76.25A15.75 17 0 0 1 6.75 76.25V64" fill="none" stroke="currentColor" stroke-width="13.5" stroke-linejoin="miter" stroke-linecap="butt"/></g>
</g>
<g transform="translate(813.20 734.00) scale(0.0965 0.0920)" color="#fff">
<g transform="translate(0.00 0)"><path d="M38 7.0H7.0V100M7.0 50H34" fill="none" stroke="currentColor" stroke-width="14" stroke-linejoin="miter" stroke-linecap="butt"/></g>
<g transform="translate(50.00 0)"><path d="M7.0 100V7.0H25.0a15 15 0 0 1 15 15V32.0a15 13 0 0 1 -15 13H7.0M23.0 45.0q17 1 17 16V100" fill="none" stroke="currentColor" stroke-width="14" stroke-linejoin="miter" stroke-linecap="butt"/></g>
<g transform="translate(109.00 0)"><path d="M39 7.0H7.0V93.0H39M7.0 50H35" fill="none" stroke="currentColor" stroke-width="14" stroke-linejoin="miter" stroke-linecap="butt"/></g>
<g transform="translate(160.00 0)"><path d="M39 7.0H7.0V93.0H39M7.0 50H35" fill="none" stroke="currentColor" stroke-width="14" stroke-linejoin="miter" stroke-linecap="butt"/></g>
</g>
<g transform="translate(823.8 708.2)" fill="none" stroke="#fff" stroke-width="1.7" stroke-linecap="round" stroke-linejoin="round"><g transform="translate(-0.6 -3.6) rotate(45)"><path d="M-3.2 -5V-13.8A3.2 3.2 0 0 1 3.2 -13.8V-5"/><rect x="-5" y="-5" width="10" height="2.6"/><rect x="-4" y="-2.4" width="8" height="2.2"/><path d="M-3 -0.2V9L-0.9 17H0.9L3 9V-0.2"/></g><path transform="translate(-12.6 14.8)" d="M0 -4.5C2 -2 2.8 -0.5 2.8 0.8A2.8 2.8 0 1 1 -2.8 0.8C-2.8 -0.5 -2 -2 0 -4.5Z"/><path d="M-16.8 -15L13.8 15.2"/></g>
<circle cx="928.4" cy="708.7" r="46.8" fill="#231f20"/><circle cx="928.4" cy="708.7" r="42.0" fill="none" stroke="#fff" stroke-width="2.8"/>
<g color="#fff">
<g transform="translate(928.40 714.80) rotate(-50.68) translate(-2.358 -40.000) scale(0.1048 0.0880)"><path d="M7.0 100V7.0H23.0a15 15 0 0 1 15 15V36.0a15 15 0 0 1 -15 15H7.0" fill="none" stroke="currentColor" stroke-width="14" stroke-linejoin="miter" stroke-linecap="butt"/></g>
<g transform="translate(928.40 714.80) rotate(-40.73) translate(-2.463 -40.000) scale(0.1048 0.0880)"><path d="M7.0 100V7.0H25.0a15 15 0 0 1 15 15V32.0a15 13 0 0 1 -15 13H7.0M23.0 45.0q17 1 17 16V100" fill="none" stroke="currentColor" stroke-width="14" stroke-linejoin="miter" stroke-linecap="butt"/></g>
<g transform="translate(928.40 714.80) rotate(-31.29) translate(-2.044 -40.000) scale(0.1048 0.0880)"><path d="M39 7.0H7.0V93.0H39M7.0 50H35" fill="none" stroke="currentColor" stroke-width="14" stroke-linejoin="miter" stroke-linecap="butt"/></g>
<g transform="translate(928.40 714.80) rotate(-22.01) translate(-2.358 -40.000) scale(0.1048 0.0880)"><path d="M38.0 36V24.0A15.5 17 0 0 0 7.0 24.0V30C7.0 50 38.0 52 38.0 72V76.0A15.5 17 0 0 1 7.0 76.0V64" fill="none" stroke="currentColor" stroke-width="14" stroke-linejoin="miter" stroke-linecap="butt"/></g>
<g transform="translate(928.40 714.80) rotate(-12.73) translate(-2.044 -40.000) scale(0.1048 0.0880)"><path d="M39 7.0H7.0V93.0H39M7.0 50H35" fill="none" stroke="currentColor" stroke-width="14" stroke-linejoin="miter" stroke-linecap="butt"/></g>
<g transform="translate(928.40 714.80) rotate(-3.29) translate(-2.463 -40.000) scale(0.1048 0.0880)"><path d="M7.0 100V7.0H25.0a15 15 0 0 1 15 15V32.0a15 13 0 0 1 -15 13H7.0M23.0 45.0q17 1 17 16V100" fill="none" stroke="currentColor" stroke-width="14" stroke-linejoin="miter" stroke-linecap="butt"/></g>
<g transform="translate(928.40 714.80) rotate(6.92) translate(-2.515 -40.000) scale(0.1048 0.0880)"><path d="M0 0H16L24 74L32 0H48L32.5 100H15.5Z" fill="currentColor" fill-rule="evenodd"/></g>
<g transform="translate(928.40 714.80) rotate(17.37) translate(-2.620 -40.000) scale(0.1048 0.0880)"><path d="M0 100L16.5 0H33.5L50 100H34L31.6 81H18.4L16 100ZM20.2 67L25 22L29.8 67Z" fill="currentColor" fill-rule="evenodd"/></g>
<g transform="translate(928.40 714.80) rotate(27.32) translate(-2.201 -40.000) scale(0.1048 0.0880)"><path d="M0 7.0H42M21 7.0V100" fill="none" stroke="currentColor" stroke-width="14" stroke-linejoin="miter" stroke-linecap="butt"/></g>
<g transform="translate(928.40 714.80) rotate(34.24) translate(-0.734 -40.000) scale(0.1048 0.0880)"><path d="M7.0 0V100" fill="none" stroke="currentColor" stroke-width="14" stroke-linejoin="miter" stroke-linecap="butt"/></g>
<g transform="translate(928.40 714.80) rotate(41.66) translate(-2.515 -40.000) scale(0.1048 0.0880)"><path d="M0 0H16L24 74L32 0H48L32.5 100H15.5Z" fill="currentColor" fill-rule="evenodd"/></g>
<g transform="translate(928.40 714.80) rotate(51.19) translate(-2.044 -40.000) scale(0.1048 0.0880)"><path d="M39 7.0H7.0V93.0H39M7.0 50H35" fill="none" stroke="currentColor" stroke-width="14" stroke-linejoin="miter" stroke-linecap="butt"/></g>
</g>
<g transform="translate(918.00 734.40) scale(0.0945 0.0920)" color="#fff">
<g transform="translate(0.00 0)"><path d="M38 7.0H7.0V100M7.0 50H34" fill="none" stroke="currentColor" stroke-width="14" stroke-linejoin="miter" stroke-linecap="butt"/></g>
<g transform="translate(50.00 0)"><path d="M7.0 100V7.0H25.0a15 15 0 0 1 15 15V32.0a15 13 0 0 1 -15 13H7.0M23.0 45.0q17 1 17 16V100" fill="none" stroke="currentColor" stroke-width="14" stroke-linejoin="miter" stroke-linecap="butt"/></g>
<g transform="translate(109.00 0)"><path d="M39 7.0H7.0V93.0H39M7.0 50H35" fill="none" stroke="currentColor" stroke-width="14" stroke-linejoin="miter" stroke-linecap="butt"/></g>
<g transform="translate(160.00 0)"><path d="M39 7.0H7.0V93.0H39M7.0 50H35" fill="none" stroke="currentColor" stroke-width="14" stroke-linejoin="miter" stroke-linecap="butt"/></g>
</g>
<g transform="translate(928.4 708.7)" fill="none" stroke="#fff" stroke-width="1.6" stroke-linecap="round" stroke-linejoin="round"><rect x="-8" y="-17.1" width="15.6" height="2.8" rx="1.2"/><path d="M-6 -14.3V-5.5L-12.9 15.2C-13.8 18 -12.8 19.7 -10.5 19.7H9.7C12 19.7 13 18 12.1 15.2L5.6 -5.5V-14.3"/><path d="M-10.9 18.2L-8.9 8.7C-4 9 0.5 6.5 4.6 2.2L10.9 18.2Z" fill="#fff" stroke="#fff" stroke-width="0.8"/><circle cx="0.4" cy="-11.5" r="1.2" fill="#fff" stroke="none"/><circle cx="-2.4" cy="-6.7" r="0.9" fill="#fff" stroke="none"/><path d="M-5 -1.5L2.5 6" stroke="#231f20" stroke-width="3.4" stroke-linecap="butt"/><path d="M-18 -14.3L16.4 19.7"/><path d="M-8.9 16.5L-7.8 11" stroke="#231f20" stroke-width="0.9"/></g>
<circle cx="322.2" cy="897" r="62" fill="#fff" stroke="#231f20" stroke-width="3"/><circle cx="322.2" cy="897" r="36.5" fill="none" stroke="#231f20" stroke-width="3"/>
<g transform="translate(294.25 884.25) scale(0.3394 0.3150)" color="#231f20">
<g transform="translate(0.00 0)"><path d="M38.0 36V26.0a14.5 17 0 0 0 -29.0 0V74.0a14.5 17 0 0 0 29.0 0V58.0H24" fill="none" stroke="currentColor" stroke-width="18" stroke-linejoin="miter" stroke-linecap="butt"/></g>
<g transform="translate(56.00 0)"><path d="M9.0 100V0M51.0 100V0" fill="none" stroke="currentColor" stroke-width="18" stroke-linejoin="miter" stroke-linecap="butt"/><path d="M0 0H20L30 62L40 0H60L37 100H23Z" fill="currentColor" fill-rule="evenodd"/></g>
<g transform="translate(125.00 0)"><path d="M9.0 100V9.0H21.0a15 15 0 0 1 15 15V34.0a15 15 0 0 1 -15 15H9.0" fill="none" stroke="currentColor" stroke-width="18" stroke-linejoin="miter" stroke-linecap="butt"/></g>
</g>
<g color="#231f20">
<g transform="translate(322.20 897.00) rotate(-36.20) translate(-3.303 -55.000) scale(0.1436 0.1250)"><path d="M39.75 38V24.25a16.25 17 0 0 0 -32.5 0V75.75a16.25 17 0 0 0 32.5 0V62" fill="none" stroke="currentColor" stroke-width="14.5" stroke-linejoin="miter" stroke-linecap="butt"/></g>
<g transform="translate(322.20 897.00) rotate(-26.15) translate(-2.801 -55.000) scale(0.1436 0.1250)"><path d="M39 7.25H7.25V92.75H39M7.25 50H35" fill="none" stroke="currentColor" stroke-width="14.5" stroke-linejoin="miter" stroke-linecap="butt"/></g>
<g transform="translate(322.20 897.00) rotate(-16.02) translate(-3.375 -55.000) scale(0.1436 0.1250)"><path d="M7.25 100V7.25H24.75a15 15 0 0 1 15 15V31.75a15 13 0 0 1 -15 13H7.25M22.75 44.75q17 1 17 16V100" fill="none" stroke="currentColor" stroke-width="14.5" stroke-linejoin="miter" stroke-linecap="butt"/></g>
<g transform="translate(322.20 897.00) rotate(-5.64) translate(-3.016 -55.000) scale(0.1436 0.1250)"><path d="M0 7.25H42M21 7.25V100" fill="none" stroke="currentColor" stroke-width="14.5" stroke-linejoin="miter" stroke-linecap="butt"/></g>
<g transform="translate(322.20 897.00) rotate(2.00) translate(-1.041 -55.000) scale(0.1436 0.1250)"><path d="M7.25 0V100" fill="none" stroke="currentColor" stroke-width="14.5" stroke-linejoin="miter" stroke-linecap="butt"/></g>
<g transform="translate(322.20 897.00) rotate(9.30) translate(-2.729 -55.000) scale(0.1436 0.1250)"><path d="M38 7.25H7.25V100M7.25 50H34" fill="none" stroke="currentColor" stroke-width="14.5" stroke-linejoin="miter" stroke-linecap="butt"/></g>
<g transform="translate(322.20 897.00) rotate(16.60) translate(-1.041 -55.000) scale(0.1436 0.1250)"><path d="M7.25 0V100" fill="none" stroke="currentColor" stroke-width="14.5" stroke-linejoin="miter" stroke-linecap="butt"/></g>
<g transform="translate(322.20 897.00) rotate(23.98) translate(-2.801 -55.000) scale(0.1436 0.1250)"><path d="M39 7.25H7.25V92.75H39M7.25 50H35" fill="none" stroke="currentColor" stroke-width="14.5" stroke-linejoin="miter" stroke-linecap="butt"/></g>
<g transform="translate(322.20 897.00) rotate(34.11) translate(-3.375 -55.000) scale(0.1436 0.1250)"><path d="M7.25 7.25H22.75a17 17 0 0 1 17 17V75.75a17 17 0 0 1 -17 17H7.25Z" fill="none" stroke="currentColor" stroke-width="14.5" stroke-linejoin="miter" stroke-linecap="butt"/></g>
</g>
<g color="#231f20">
<g transform="translate(322.20 897.00) rotate(39.70) translate(-3.502 41.500) scale(0.1523 0.1350)"><path d="M39.75 38V24.25a16.25 17 0 0 0 -32.5 0V75.75a16.25 17 0 0 0 32.5 0V62" fill="none" stroke="currentColor" stroke-width="14.5" stroke-linejoin="miter" stroke-linecap="butt"/></g>
<g transform="translate(322.20 897.00) rotate(28.94) translate(-2.969 41.500) scale(0.1523 0.1350)"><path d="M39 7.25H7.25V92.75H39M7.25 50H35" fill="none" stroke="currentColor" stroke-width="14.5" stroke-linejoin="miter" stroke-linecap="butt"/></g>
<g transform="translate(322.20 897.00) rotate(18.09) translate(-3.578 41.500) scale(0.1523 0.1350)"><path d="M7.25 100V7.25H24.75a15 15 0 0 1 15 15V31.75a15 13 0 0 1 -15 13H7.25M22.75 44.75q17 1 17 16V100" fill="none" stroke="currentColor" stroke-width="14.5" stroke-linejoin="miter" stroke-linecap="butt"/></g>
<g transform="translate(322.20 897.00) rotate(6.97) translate(-3.198 41.500) scale(0.1523 0.1350)"><path d="M0 7.25H42M21 7.25V100" fill="none" stroke="currentColor" stroke-width="14.5" stroke-linejoin="miter" stroke-linecap="butt"/></g>
<g transform="translate(322.20 897.00) rotate(-1.21) translate(-1.104 41.500) scale(0.1523 0.1350)"><path d="M7.25 0V100" fill="none" stroke="currentColor" stroke-width="14.5" stroke-linejoin="miter" stroke-linecap="butt"/></g>
<g transform="translate(322.20 897.00) rotate(-9.03) translate(-2.893 41.500) scale(0.1523 0.1350)"><path d="M38 7.25H7.25V100M7.25 50H34" fill="none" stroke="currentColor" stroke-width="14.5" stroke-linejoin="miter" stroke-linecap="butt"/></g>
<g transform="translate(322.20 897.00) rotate(-16.85) translate(-1.104 41.500) scale(0.1523 0.1350)"><path d="M7.25 0V100" fill="none" stroke="currentColor" stroke-width="14.5" stroke-linejoin="miter" stroke-linecap="butt"/></g>
<g transform="translate(322.20 897.00) rotate(-24.76) translate(-2.969 41.500) scale(0.1523 0.1350)"><path d="M39 7.25H7.25V92.75H39M7.25 50H35" fill="none" stroke="currentColor" stroke-width="14.5" stroke-linejoin="miter" stroke-linecap="butt"/></g>
<g transform="translate(322.20 897.00) rotate(-35.61) translate(-3.578 41.500) scale(0.1523 0.1350)"><path d="M7.25 7.25H22.75a17 17 0 0 1 17 17V75.75a17 17 0 0 1 -17 17H7.25Z" fill="none" stroke="currentColor" stroke-width="14.5" stroke-linejoin="miter" stroke-linecap="butt"/></g>
</g>
<circle cx="272.8" cy="894.75" r="3.3" fill="#231f20"/><circle cx="370.75" cy="894.75" r="3.3" fill="#231f20"/>
<polygon points="313.50,872.90 314.37,874.80 316.45,875.04 314.92,876.46 315.32,878.51 313.50,877.49 311.68,878.51 312.08,876.46 310.55,875.04 312.63,874.80" fill="#231f20"/><polygon points="322.00,871.20 323.16,873.71 325.90,874.03 323.87,875.91 324.41,878.62 322.00,877.27 319.59,878.62 320.13,875.91 318.10,874.03 320.84,873.71" fill="#231f20"/><polygon points="330.50,872.90 331.37,874.80 333.45,875.04 331.92,876.46 332.32,878.51 330.50,877.49 328.68,878.51 329.08,876.46 327.55,875.04 329.63,874.80" fill="#231f20"/>
<circle cx="466.6" cy="897.9" r="62" fill="#231f20"/><circle cx="466.6" cy="897.9" r="57.6" fill="#fff"/>
<clipPath id="usc"><rect x="406.6" y="898.2" width="120" height="70"/></clipPath>
<g clip-path="url(#usc)"><circle cx="466.6" cy="897.9" r="55.6" fill="#231f20"/><clipPath id="usc2"><circle cx="466.6" cy="897.9" r="55.6"/></clipPath><g clip-path="url(#usc2)" fill="#474444"><polygon points="522,900 425,936 426,941"/><polygon points="522,901 448,953 455,957"/><polygon points="522,902 478,955 486,955"/><polygon points="522,899 412,915 412,919"/></g></g>
<text x="433.2" y="891.2" font-size="35.3" font-weight="bold" fill="#231f20" stroke="#231f20" stroke-width="0.9" textLength="66.3" lengthAdjust="spacingAndGlyphs">USDA</text>
<text x="424.2" y="924" font-size="26.2" font-weight="bold" fill="#fff" stroke="#fff" stroke-width="0.7" textLength="86" lengthAdjust="spacingAndGlyphs">ORGANIC</text>
<!--HEADINGS-->
<!--ICONS-->
</svg>
</body></html>
